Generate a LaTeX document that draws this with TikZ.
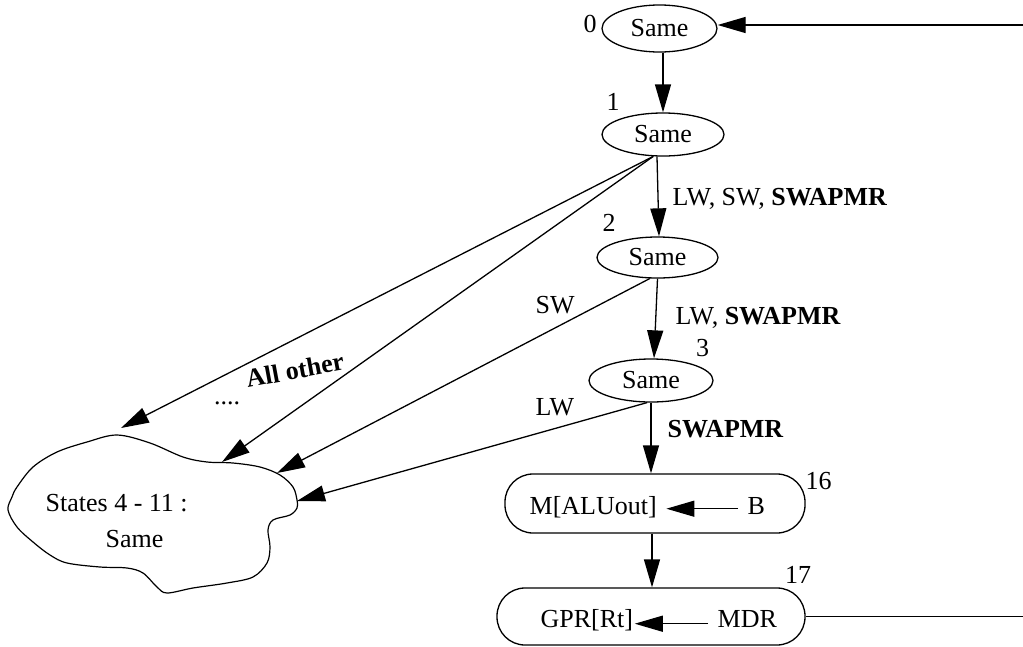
\documentclass[tikz,border=0pt]{standalone}
\usepackage{fontspec}
\setmainfont{Liberation Serif}
\usetikzlibrary{arrows.meta,shapes.geometric}
\begin{document}
\begin{tikzpicture}[x=1pt,y=-1pt,
  font=\fontsize{26}{30}\selectfont,
  line width=1.3pt,
  arr/.style={-{Triangle[length=28pt,width=16pt]}},
  st/.style={ellipse, draw, inner sep=0pt},
  act/.style={draw, rounded corners=28pt, inner sep=0pt},
  lbl/.style={inner sep=0pt},
  txt/.style={inner sep=0pt, anchor=base west}]
\useasboundingbox (0,0) rectangle (1023,646);

% states
\node[st, minimum width=115pt, minimum height=47pt] (e0) at (659.5,28.5) {Same};
\node[st, minimum width=122pt, minimum height=43pt] (e1) at (663,134.5) {Same};
\node[st, minimum width=121pt, minimum height=41pt] (e2) at (657.5,257.5) {Same};
\node[st, minimum width=124pt, minimum height=43pt] (e3) at (651,380.5) {Same};
\node[act, minimum width=300pt, minimum height=59pt] (s16) at (655,503.5) {};
\node[act, minimum width=308pt, minimum height=57pt] (s17) at (651,616.5) {};

% state numbers
\node[lbl] (n0) at (590,24) {0};
\node[lbl] (n1) at (613,102) {1};
\node[lbl] (n2) at (609,223) {2};
\node[lbl] (n3) at (702.5,348) {3};
\node[lbl] (n16) at (818.5,481.5) {16};
\node[lbl] (n17) at (798,575) {17};

% texts in action states
\node[txt] (alu16) at (529,514) {M[ALUout]};
\node[txt] (b16) at (747,514) {B};
\node[txt] (gpr17) at (540,627) {GPR[Rt]};
\node[txt] (mdr17) at (717,627) {MDR};
\draw[arr, shorten <=9pt] ([yshift=3pt]b16.mid west) -- ([yshift=3pt,xshift=9pt]alu16.mid east);
\draw[arr, shorten <=9pt] ([yshift=1pt]mdr17.mid west) -- ([yshift=1pt,xshift=1pt]gpr17.mid east);

% cloud
\draw[line width=1.2pt] plot[smooth cycle, tension=0.55] coordinates {
 (117,435) (150,443) (183,457) (207,462) (233,463) (260,467) (280,475)
 (293,487) (297,500) (297,508) (290,515) (273,520) (268,530) (270,547)
 (267,563) (253,577) (227,583) (193,588) (167,593) (157,587) (143,573)
 (127,568) (100,567) (67,563) (50,555) (33,542) (17,527) (8,510)
 (12,497) (17,487) (33,467) (57,452) (87,442)};
\node[txt] (cl1) at (45,511) {States 4 - 11 :};
\node[txt] (cl2) at (105,547) {Same};
\coordinate (t1) at (121,428);
\coordinate (t2) at (222,462);
\coordinate (t3) at (277,473);
\coordinate (t4) at (297,501);

% main flow
\coordinate (in0) at (1023,25);
\coordinate (out17) at (1023,616.5);
\draw[arr] (in0) -- (in0 -| e0.east);
\draw[arr] (e1.north |- e0.south) -- (e1.north);
\draw[arr] ([xshift=-6pt]e1.south) -- ([xshift=1.5pt]e2.north);
\draw[arr] (e2.south) -- ([xshift=3pt]e3.north);
\draw[arr] (e3.south) -- (e3.south |- s16.north);
\draw[arr] ([xshift=-3pt]s16.south) -- ([xshift=-3pt]s16.south |- s17.north);
\draw (s17.east) -- (out17);

% to cloud
\draw[arr] (e1.246) -- (t1);
\draw[arr] (e1.246) -- (t2);
\draw[arr] (e2.250) -- (t3);
\draw[arr] (e3.260) -- (t4);

% edge labels
\node[txt] (l12) at (672,205) {LW, SW, \textbf{SWAPMR}};
\node[txt] (l23) at (675,324) {LW, \textbf{SWAPMR}};
\node[txt] (l316) at (667,437) {\textbf{SWAPMR}};
\node[txt] (lsw) at (535,313) {SW};
\node[txt] (llw) at (535,415) {LW};
\node[lbl, rotate=10.5] (lall) at (295,370) {\textbf{All other}};
\node[lbl, anchor=base] (ldots) at (227,404) {....};
\end{tikzpicture}
\end{document}
